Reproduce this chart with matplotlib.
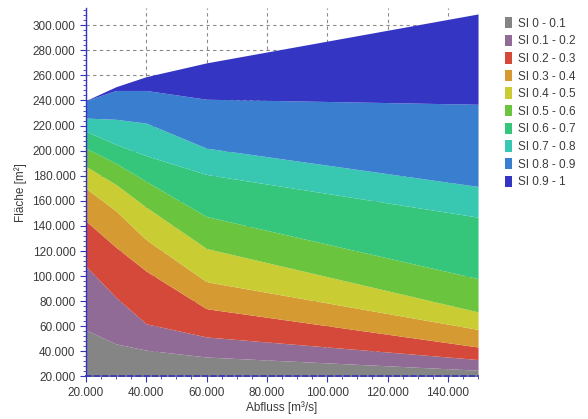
import numpy as np
import matplotlib
matplotlib.use("Agg")
from matplotlib import pyplot as plt
from matplotlib.patches import Patch
from matplotlib.ticker import FuncFormatter, MultipleLocator

plt.rcParams['font.family'] = ['Liberation Sans', 'DejaVu Sans']

# Abfluss values [m³/s]
abfluss = [20000, 30000, 40000, 60000, 150000]

# Upper limit of the area [m²] for each SI class (cumulative)
si_01 = [57000, 46000, 41000, 35500, 25000]
si_02 = [108000, 83000, 62000, 51500, 33500]
si_03 = [144000, 123000, 104000, 74000, 43500]
si_04 = [170000, 152000, 129000, 95500, 57500]
si_05 = [187500, 173000, 155000, 122000, 71500]
si_06 = [202000, 190000, 175500, 147500, 98000]
si_07 = [215500, 205000, 196000, 181000, 147000]
si_08 = [226000, 225000, 222000, 202000, 171500]
si_09 = [240000, 248000, 248000, 241000, 237000]
si_10 = [240000, 251000, 259000, 270000, 309000]
base = [0, 0, 0, 0, 0]

labels = ['SI 0 - 0.1', 'SI 0.1 - 0.2', 'SI 0.2 - 0.3', 'SI 0.3 - 0.4', 'SI 0.4 - 0.5',
          'SI 0.5 - 0.6', 'SI 0.6 - 0.7', 'SI 0.7 - 0.8', 'SI 0.8 - 0.9', 'SI 0.9 - 1']
colors = ['#858585', '#8f6b95', '#d5493a', '#d69a33', '#c9cd33',
          '#6ac43d', '#35c67b', '#38c8b2', '#3a7fcf', '#3535c4']

bounds = [base, si_01, si_02, si_03, si_04, si_05, si_06, si_07, si_08, si_09, si_10]

fig = plt.figure(figsize=(5.88, 4.19), dpi=100)
ax = fig.add_axes([0.146, 0.1015, 0.667, 0.879])

# Stacked bands
for i in range(10):
    ax.fill_between(abfluss, bounds[i], bounds[i+1], color=colors[i], lw=0, zorder=2)

ax.set_xlim(20000, 150000)
ax.set_ylim(20000, 313600)

# Axis ticks and grid
fmt = FuncFormatter(lambda v, p: f"{v:,.0f}".replace(",", "."))
ax.xaxis.set_major_locator(MultipleLocator(20000))
ax.xaxis.set_minor_locator(MultipleLocator(5000))
ax.yaxis.set_major_locator(MultipleLocator(20000))
ax.yaxis.set_minor_locator(MultipleLocator(4000))
ax.xaxis.set_major_formatter(fmt)
ax.yaxis.set_major_formatter(fmt)
ax.tick_params(which='both', direction='out', color='#3333bb', labelsize=8.5,
               labelcolor='#3a3a3a')
ax.tick_params(which='major', length=4, width=0.8)
ax.tick_params(which='minor', length=2.5, width=0.6)
ax.grid(True, which='major', color='#8a8a8a', linestyle=(0, (3, 3)), lw=0.8, zorder=1)
ax.set_axisbelow(True)

for side in ['top', 'right']:
    ax.spines[side].set_visible(False)
ax.spines['left'].set_color('#3333bb')
ax.spines['left'].set_linewidth(1.0)
ax.spines['bottom'].set_color('#3333bb')
ax.spines['bottom'].set_linewidth(1.2)
ax.spines['bottom'].set_linestyle((0, (3, 2)))
ax.spines['left'].set_zorder(3)
ax.spines['bottom'].set_zorder(3)

ax.set_xlabel('Abfluss [m³/s]', fontsize=8.5, color='#3a3a3a', labelpad=2)
ax.set_ylabel('Fläche [m²]', fontsize=8.5, color='#3a3a3a', labelpad=4)

# Legend
handles = [Patch(facecolor=c, edgecolor='none') for c in colors]
fig.legend(handles, labels, loc='upper left', bbox_to_anchor=(0.84, 0.985),
           frameon=False, fontsize=8.5, handlelength=0.6, handleheight=1.1,
           handletextpad=0.5, labelspacing=0.42, labelcolor='#3a3a3a')

fig.savefig('out.png', dpi=100)
